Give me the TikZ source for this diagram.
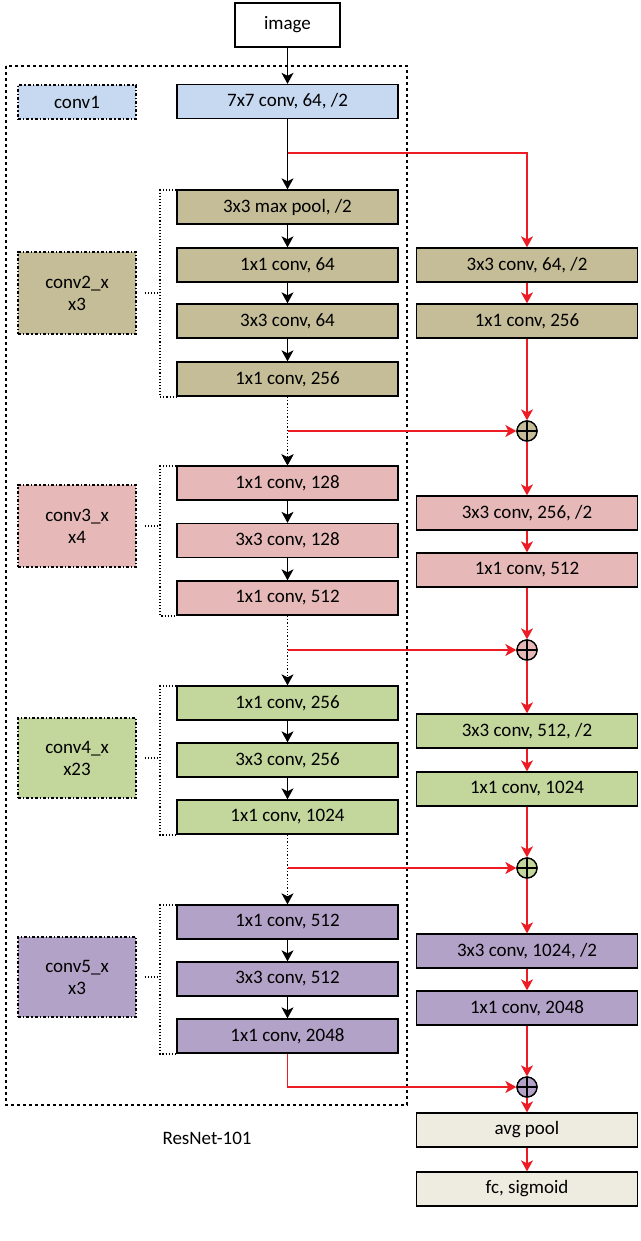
\documentclass[tikz,border=0pt]{standalone}
\usepackage{fontspec}
\setmainfont{Carlito}
\usetikzlibrary{arrows.meta}
\definecolor{cb}{RGB}{198,217,241}
\definecolor{co}{RGB}{196,189,151}
\definecolor{cp}{RGB}{230,185,184}
\definecolor{cg}{RGB}{195,214,155}
\definecolor{cv}{RGB}{179,162,199}
\definecolor{cw}{RGB}{238,236,225}
\definecolor{rd}{RGB}{237,28,36}
\begin{document}
\begin{tikzpicture}[x=1pt,y=-1pt,
 font=\fontsize{19}{22}\selectfont,
 box/.style={draw,line width=1.3pt,minimum width=221pt,minimum height=34pt,inner sep=0pt},
 lab/.style={draw,line width=1.3pt,dash dot,minimum width=118pt,align=center,inner sep=0pt},
 ar/.style={-{Stealth[inset=3pt,length=11pt,width=12pt]},line width=1.3pt},
 ra/.style={ar,draw=rd,color=rd},
 rl/.style={draw=rd,line width=1.3pt},
 plus/.style={draw,line width=1.3pt,circle,minimum size=20pt,inner sep=0pt,
   path picture={\draw[line width=1.2pt] (path picture bounding box.north)--(path picture bounding box.south) (path picture bounding box.west)--(path picture bounding box.east);}},
 br/.style={dotted,line width=1.1pt}]
\useasboundingbox (0,0) rectangle (640,1241);
\draw[dashed,line width=1.3pt] (6,66) rectangle (407,1105);
\node[draw,line width=1.3pt,minimum width=105pt,minimum height=44pt] (img) at (287.5,25) {image};
\node[box,fill=cb] (c1) at (287.5,101.5) {7x7 conv, 64, /2};
\node[lab,fill=cb,minimum height=34pt] (l1) at (77,102) {conv1};
% conv2
\node[box,fill=co] (a1) at (287.5,207) {3x3 max pool, /2};
\node[box,fill=co] (a2) at (287.5,265) {1x1 conv, 64};
\node[box,fill=co] (a3) at (287.5,321) {3x3 conv, 64};
\node[box,fill=co] (a4) at (287.5,379) {1x1 conv, 256};
\node[box,fill=co] (ra1) at (527,265) {3x3 conv, 64, /2};
\node[box,fill=co] (ra2) at (527,321) {1x1 conv, 256};
\node[plus,fill=co] (pa) at (527,431) {};
\node[lab,fill=co,minimum height=82pt] (l2) at (77,293) {conv2\_x\\x3};
% conv3
\node[box,fill=cp] (b1) at (287.5,483) {1x1 conv, 128};
\node[box,fill=cp] (b2) at (287.5,540.5) {3x3 conv, 128};
\node[box,fill=cp] (b3) at (287.5,598) {1x1 conv, 512};
\node[box,fill=cp] (rb1) at (527,513) {3x3 conv, 256, /2};
\node[box,fill=cp] (rb2) at (527,570) {1x1 conv, 512};
\node[plus,fill=cp] (pb) at (527,650) {};
\node[lab,fill=cp,minimum height=82pt] (l3) at (77,526) {conv3\_x\\x4};
% conv4
\node[box,fill=cg] (d1) at (287.5,703) {1x1 conv, 256};
\node[box,fill=cg] (d2) at (287.5,760) {3x3 conv, 256};
\node[box,fill=cg] (d3) at (287.5,817) {1x1 conv, 1024};
\node[box,fill=cg] (rd1) at (527,731) {3x3 conv, 512, /2};
\node[box,fill=cg] (rd2) at (527,789) {1x1 conv, 1024};
\node[plus,fill=cg] (pd) at (527,868) {};
\node[lab,fill=cg,minimum height=80pt] (l4) at (77,758) {conv4\_x\\x23};
% conv5
\node[box,fill=cv] (e1) at (287.5,922) {1x1 conv, 512};
\node[box,fill=cv] (e2) at (287.5,979) {3x3 conv, 512};
\node[box,fill=cv] (e3) at (287.5,1036) {1x1 conv, 2048};
\node[box,fill=cv] (re1) at (527,951) {3x3 conv, 1024, /2};
\node[box,fill=cv] (re2) at (527,1008) {1x1 conv, 2048};
\node[plus,fill=cv] (pe) at (527,1087) {};
\node[lab,fill=cv,minimum height=80pt] (l5) at (77,977) {conv5\_x\\x3};
\node[box,fill=cw] (av) at (527,1130) {avg pool};
\node[box,fill=cw] (fc) at (527,1189) {fc, sigmoid};
\node (rn) at (207,1138) {ResNet-101};
% coordinates
\coordinate (s1) at (287.5,153);
\coordinate (s2) at (287.5,431);
\coordinate (s3) at (287.5,650);
\coordinate (s4) at (287.5,868);
\coordinate (s5) at (287.5,1087);
% black arrows
\draw[ar] (img) -- (c1);
\draw[ar] (c1) -- (a1);
\draw[ar] (a1)--(a2); \draw[ar] (a2)--(a3); \draw[ar] (a3)--(a4);
\draw[ar] (b1)--(b2); \draw[ar] (b2)--(b3);
\draw[ar] (d1)--(d2); \draw[ar] (d2)--(d3);
\draw[ar] (e1)--(e2); \draw[ar] (e2)--(e3);
\draw[ar,dotted] (a4) -- (b1);
\draw[ar,dotted] (b3) -- (d1);
\draw[ar,dotted] (d3) -- (e1);
\draw[dotted,-{Stealth[inset=3pt,length=11pt,width=12pt]},line width=1.3pt] (a4)--(b1);
% red
\draw[rl] (s1) -| (527,240);
\draw[ra] (527,200) -- (ra1);
\draw[ra] (ra1)--(ra2); \draw[ra] (ra2)--(pa);
\draw[ra] (s2)--(pa);
\draw[ra] (pa)--(rb1); \draw[ra] (rb1)--(rb2); \draw[ra] (rb2)--(pb);
\draw[ra] (s3)--(pb);
\draw[ra] (pb)--(rd1); \draw[ra] (rd1)--(rd2); \draw[ra] (rd2)--(pd);
\draw[ra] (s4)--(pd);
\draw[ra] (pd)--(re1); \draw[ra] (re1)--(re2); \draw[ra] (re2)--(pe);
\draw[ra] (e3.south) |- (pe);
\draw[ra] (pe)--(av); \draw[ra] (av)--(fc);
\node[plus,fill=co] at (pa) {};
\node[plus,fill=cp] at (pb) {};
\node[plus,fill=cg] at (pd) {};
\node[plus,fill=cv] at (pe) {};
% brackets
\foreach \n/\t/\b in {l2/190/397, l3/466/616, l4/686/835, l5/905/1054}{
 \draw[br] (176,\t) -- (160,\t) -- (160,\b) -- (176,\b);
 \draw[br] (\n.east) ++(8,0) -- (160,0 |- \n.east);
}
\end{tikzpicture}
\end{document}
